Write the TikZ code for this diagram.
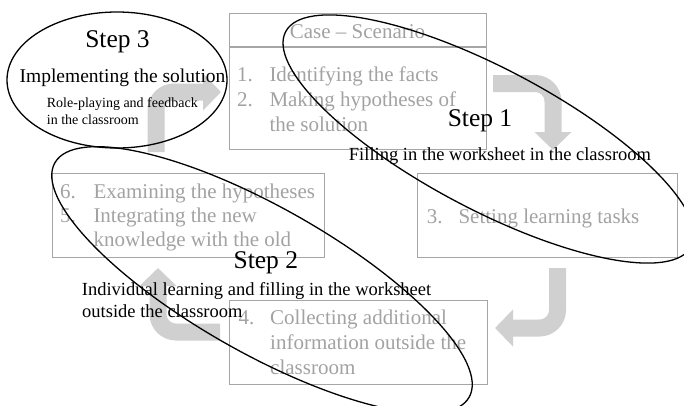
\documentclass[tikz,border=0pt]{standalone}
\usepackage{fontspec}
\setmainfont{Liberation Serif}
\usetikzlibrary{arrows.meta,shapes.geometric}
\definecolor{boxgray}{RGB}{166,166,166}
\definecolor{txtgray}{RGB}{162,162,162}
\definecolor{arrgray}{RGB}{208,208,208}
\begin{document}
\begin{tikzpicture}[x=1pt,y=-1pt,
  box/.style={draw=boxgray, line width=1.1pt, inner sep=0pt, anchor=north west},
  gtxt/.style={text=txtgray, font=\fontsize{21}{25}\selectfont, inner sep=0pt, anchor=base west},
  steptxt/.style={font=\fontsize{25.5}{30}\selectfont, inner sep=0pt, anchor=base},
  subtxt/.style={font=\fontsize{18.5}{22}\selectfont, inner sep=0pt},
  smalltxt/.style={font=\fontsize{14}{17}\selectfont, inner sep=0pt, anchor=base west},
  bent/.style={draw=arrgray, line width=17pt, rounded corners=18pt, -{Triangle[width=36pt,length=18pt]}},
  ring/.style={draw=black, line width=1.3pt, ellipse, inner sep=0pt}]
\useasboundingbox (0,0) rectangle (684,405);
\clip (0,0) rectangle (684,405);
% arrow end points
\coordinate (a1s) at (493,83.5);  \coordinate (a1e) at (553,150);
\coordinate (a2s) at (557.5,268); \coordinate (a2e) at (495,328);
\coordinate (a3s) at (220,332);   \coordinate (a3e) at (158,268);
\coordinate (a4s) at (156,152);   \coordinate (a4e) at (221,92);
% bent arrows
\draw[bent] (a1s) -| (a1e);
\draw[bent] (a2s) |- (a2e);
\draw[bent] (a3s) -| (a3e);
\draw[bent] (a4s) |- (a4e);
% boxes
\node[box, minimum width=257pt, minimum height=136pt] (A) at (229,13) {};
\draw[boxgray, line width=1.1pt] (A.west |- 0,47) -- (A.east |- 0,47);
\node[box, minimum width=260pt, minimum height=84pt] (B) at (417,173) {};
\node[box, minimum width=258pt, minimum height=84pt] (C) at (229,300) {};
\node[box, minimum width=272pt, minimum height=84pt] (D) at (52,173) {};
% box texts
\node[gtxt, anchor=base] (Ahead) at (357.5,38.3) {Case – Scenario};
\node[gtxt] (A1n) at (237,81.7) {1.};
\node[gtxt] (A1t) at (269.3,81.7) {Identifying the facts};
\node[gtxt] (A2n) at (237,106.7) {2.};
\node[gtxt] (A2t) at (269.3,106.7) {Making hypotheses of};
\node[gtxt] (A3t) at (269.3,131.7) {the solution};
\node[gtxt] (B1n) at (426.7,223.3) {3.};
\node[gtxt] (B1t) at (458.3,223.3) {Setting learning tasks};
\node[gtxt] (D1n) at (60,198.3) {6.};
\node[gtxt] (D1t) at (93.3,198.3) {Examining the hypotheses};
\node[gtxt] (D2n) at (60,222.5) {5.};
\node[gtxt] (D2t) at (93.3,222.5) {Integrating the new};
\node[gtxt] (D3t) at (93.3,246.7) {knowledge with the old};
\node[gtxt] (C1n) at (238.3,324) {4.};
\node[gtxt] (C1t) at (270,324) {Collecting additional};
\node[gtxt] (C2t) at (270,349) {information outside the};
\node[gtxt] (C3t) at (270,374) {classroom};
% step texts
\node[steptxt] (S3) at (117.5,47.3) {Step 3};
\node[font=\fontsize{19.5}{23}\selectfont, inner sep=0pt, anchor=base] (S3a) at (122.5,82.7) {Implementing the solution};
\node[smalltxt] (S3b) at (46.7,107.3) {Role-playing and feedback};
\node[smalltxt] (S3c) at (46.7,124) {in the classroom};
\node[steptxt] (S1) at (480,126.7) {Step 1};
\node[subtxt, anchor=base] (S1a) at (500,160) {Filling in the worksheet in the classroom};
\node[steptxt] (S2) at (265.8,268.3) {Step 2};
\node[subtxt, anchor=base west] (S2a) at (81.7,295.5) {Individual learning and filling in the worksheet};
\node[subtxt, anchor=base west] (S2b) at (82,317) {outside the classroom};
% ellipses
\node[ring, minimum width=220pt, minimum height=136pt] (E3) at (117,80) {};
\node[ring, minimum width=459pt, minimum height=140.6pt, rotate=-27.9] (E1) at (488.5,139) {};
\node[ring, minimum width=476pt, minimum height=146pt, rotate=-29.5] (E2) at (262,280) {};
\end{tikzpicture}
\end{document}
